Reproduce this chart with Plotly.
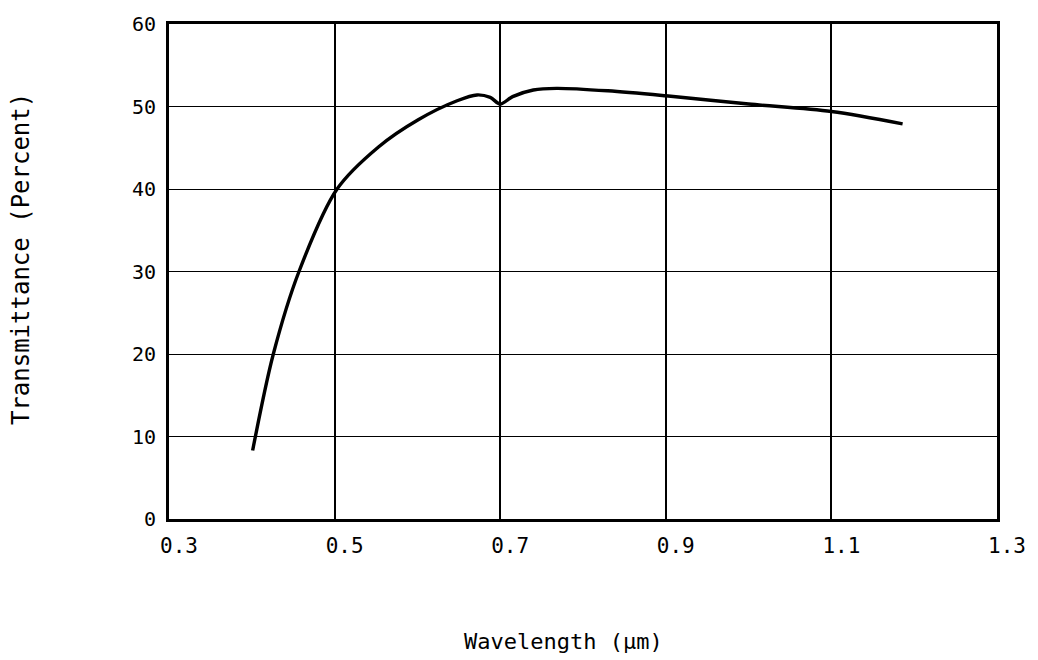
import plotly.graph_objects as go

# Data
wavelength = [0.401, 0.426, 0.457, 0.503, 0.553, 0.601, 0.648, 0.672, 0.688, 0.70,
              0.715, 0.74, 0.768, 0.83, 0.90, 1.0, 1.10, 1.186]
transmittance = [8.3, 20, 30, 40, 45.1, 48.4, 50.7, 51.4, 51.1, 50.3,
                 51.2, 52.0, 52.2, 51.9, 51.3, 50.3, 49.4, 47.9]

x_ticks = [0.3, 0.5, 0.7, 0.9, 1.1, 1.3]
x_tick_labels = ["0.3", "0.5", "0.7", "0.9", "1.1", "1.3"]
y_ticks = [0, 10, 20, 30, 40, 50, 60]
y_tick_labels = ["0", "10", "20", "30", "40", "50", "60"]

FONT = "DejaVu Sans Mono"

fig = go.Figure()
fig.add_trace(go.Scatter(
    x=wavelength, y=transmittance, mode="lines",
    line=dict(color="black", width=3.4, shape="spline", smoothing=0.9),
    hoverinfo="skip", showlegend=False,
))

fig.update_layout(
    width=1038, height=660,
    margin=dict(l=169, r=38, t=21, b=141),
    paper_bgcolor="white", plot_bgcolor="white",
    font=dict(family=FONT, color="black", size=20),
    xaxis=dict(
        range=[0.3, 1.3], tickvals=x_ticks, ticktext=x_tick_labels,
        showgrid=True, gridcolor="black", gridwidth=2,
        showline=True, linecolor="black", linewidth=3, mirror=True,
        ticks="", ticklabelstandoff=6, ticklabelshift=10,
        tickfont=dict(family=FONT, size=21, color="black"),
        zeroline=False, fixedrange=True,
    ),
    yaxis=dict(
        range=[0, 60], tickvals=y_ticks, ticktext=y_tick_labels,
        showgrid=True, gridcolor="black", gridwidth=1.3,
        showline=True, linecolor="black", linewidth=3, mirror=True,
        ticks="", ticklabelstandoff=6,
        tickfont=dict(family=FONT, size=20, color="black"),
        zeroline=False, fixedrange=True,
    ),
    annotations=[
        dict(text="Wavelength (\u03bcm)", xref="paper", yref="paper",
             x=(565 - 169) / (1000 - 169), y=-(642 - 519) / (519 - 21),
             xanchor="center", yanchor="middle", showarrow=False,
             font=dict(family=FONT, size=22, color="black")),
        dict(text="Transmittance (Percent)", xref="paper", yref="paper",
             x=-(169 - 20) / (1000 - 169), y=(519 - 258) / (519 - 21),
             xanchor="center", yanchor="middle", showarrow=False, textangle=-90,
             font=dict(family=FONT, size=24, color="black")),
    ],
)

fig.write_html("out.html")
